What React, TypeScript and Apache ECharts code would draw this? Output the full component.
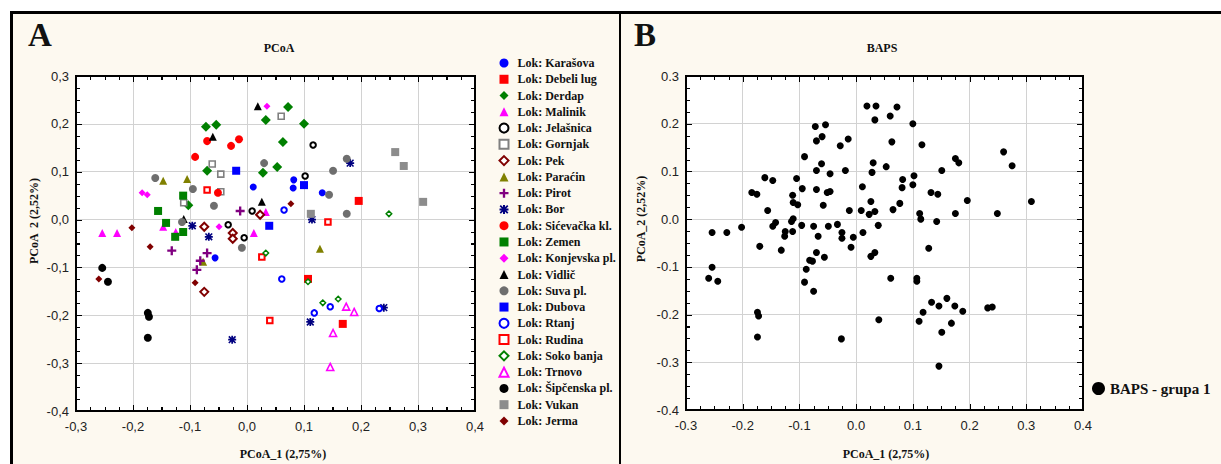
import React, { useEffect, useRef } from 'react';
import * as echarts from 'echarts';

type Pt = [number, number];

// ---- data (PCoA_1, PCoA_2) per locality ----
const karasova: Pt[] = [[0.011, 0.068], [0.082, 0.083], [0.081, 0.066], [0.132, 0.056], [-0.056, -0.08]];
const debeliLug: Pt[] = [[0.196, 0.039], [0.168, -0.218], [0.107, -0.124]];
const derdap: Pt[] = [[0.072, 0.235], [0.033, 0.208], [0.1, 0.2], [-0.072, 0.194], [-0.054, 0.198], [0.063, 0.162], [-0.07, 0.102], [0.053, 0.11], [0.028, 0.098], [-0.103, 0.03]];
const malinik: Pt[] = [[-0.254, -0.028], [-0.228, -0.028], [-0.147, -0.015], [-0.125, -0.026], [0.012, -0.028], [0.033, 0.016]];
const jelasnica: Pt[] = [[0.116, 0.156], [0.102, 0.091], [0.009, 0.018], [-0.033, -0.011], [-0.005, -0.038]];
const gornjak: Pt[] = [[0.06, 0.216], [-0.061, 0.116], [-0.046, 0.095], [-0.046, 0.058], [-0.111, 0.035]];
const pek: Pt[] = [[0.023, 0.01], [-0.075, -0.015], [-0.025, -0.028], [-0.025, -0.04], [-0.075, -0.151]];
const paracin: Pt[] = [[-0.147, 0.081], [-0.105, 0.085], [-0.077, -0.088], [0.128, -0.061]];
const pirot: Pt[] = [[-0.012, 0.018], [-0.132, -0.065], [-0.07, -0.07], [-0.082, -0.086], [-0.088, -0.105]];
const bor: Pt[] = [[0.181, 0.118], [0.114, 0.0], [-0.096, -0.013], [-0.067, -0.036], [-0.026, -0.251], [0.111, -0.214], [0.24, -0.184]];
const sicevacka: Pt[] = [[-0.07, 0.164], [-0.028, 0.154], [-0.014, 0.168], [-0.091, 0.131], [-0.051, 0.056]];
const zemen: Pt[] = [[-0.112, 0.05], [-0.156, 0.018], [-0.142, -0.007], [-0.126, -0.036], [-0.112, -0.026]];
const konjevska: Pt[] = [[0.035, 0.237], [-0.184, 0.056], [-0.175, 0.052], [-0.049, -0.015]];
const vidlic: Pt[] = [[0.019, 0.237], [-0.06, 0.173], [0.026, 0.037], [-0.111, 0.001]];
const suva: Pt[] = [[0.03, 0.118], [-0.161, 0.087], [-0.095, 0.064], [-0.058, 0.029], [-0.114, -0.005], [-0.009, -0.059], [0.175, 0.127], [0.151, 0.102], [0.144, 0.052], [0.175, 0.012]];
const dubova: Pt[] = [[-0.019, 0.102], [0.1, 0.072], [0.039, -0.013]];
const rtanj: Pt[] = [[0.065, 0.02], [0.061, -0.124], [0.146, -0.182], [0.118, -0.195], [0.232, -0.186]];
const rudina: Pt[] = [[-0.07, 0.062], [0.142, -0.005], [0.026, -0.078], [0.04, -0.211]];
const sokoBanja: Pt[] = [[0.249, 0.012], [0.033, -0.07], [0.107, -0.13], [0.133, -0.174], [0.16, -0.166]];
const trnovo: Pt[] = [[0.174, -0.182], [0.188, -0.193], [0.151, -0.237], [0.146, -0.308]];
const sipcenska: Pt[] = [[-0.254, -0.101], [-0.244, -0.13], [-0.174, -0.195], [-0.172, -0.203], [-0.174, -0.247]];
const vukan: Pt[] = [[0.26, 0.141], [0.275, 0.112], [0.309, 0.037], [0.112, 0.012]];
const jerma: Pt[] = [[0.077, 0.033], [-0.202, -0.017], [-0.17, -0.057], [-0.26, -0.124], [-0.091, -0.132]];

// ---- axes ----
const xMin = -0.3;
const xMax = 0.4;
const yMin = -0.4;
const yMax = 0.3;
const tickStep = 0.1;
const minorPerMajor = 4; // minor tick every 0.025

const PLUS = 'path://M3.7,0H6.3V3.7H10V6.3H6.3V10H3.7V6.3H0V3.7H3.7Z';
const STAR = 'path://M3.9,0H6.1V10H3.9Z M0,3.9H10V6.1H0Z M1.5,0.1L9.9,8.5L8.5,9.9L0.1,1.5Z M8.5,0.1L9.9,1.5L1.5,9.9L0.1,8.5Z';

type Def = { name: string; data: Pt[]; symbol: string; color: string; size: number; open?: boolean; bw?: number };

const SERIES_A: Def[] = [
  { name: 'Lok: Karašova', data: karasova, symbol: 'circle', color: '#0000ff', size: 7 },
  { name: 'Lok: Debeli lug', data: debeliLug, symbol: 'rect', color: '#ff0000', size: 8 },
  { name: 'Lok: Derdap', data: derdap, symbol: 'diamond', color: '#008000', size: 10 },
  { name: 'Lok: Malinik', data: malinik, symbol: 'triangle', color: '#ff00ff', size: 8 },
  { name: 'Lok: Jelašnica', data: jelasnica, symbol: 'circle', color: '#000000', size: 5.5, open: true, bw: 2 },
  { name: 'Lok: Gornjak', data: gornjak, symbol: 'rect', color: '#808080', size: 6, open: true, bw: 1.6 },
  { name: 'Lok: Pek', data: pek, symbol: 'diamond', color: '#800000', size: 8, open: true, bw: 2 },
  { name: 'Lok: Paraćin', data: paracin, symbol: 'triangle', color: '#808000', size: 8 },
  { name: 'Lok: Pirot', data: pirot, symbol: PLUS, color: '#800080', size: 9 },
  { name: 'Lok: Bor', data: bor, symbol: STAR, color: '#000080', size: 8 },
  { name: 'Lok: Sićevačka kl.', data: sicevacka, symbol: 'circle', color: '#ff0000', size: 8 },
  { name: 'Lok: Zemen', data: zemen, symbol: 'rect', color: '#008000', size: 8 },
  { name: 'Lok: Konjevska pl.', data: konjevska, symbol: 'diamond', color: '#ff00ff', size: 7 },
  { name: 'Lok: Vidlič', data: vidlic, symbol: 'triangle', color: '#000000', size: 8 },
  { name: 'Lok: Suva pl.', data: suva, symbol: 'circle', color: '#6e6e6e', size: 8 },
  { name: 'Lok: Dubova', data: dubova, symbol: 'rect', color: '#0000ff', size: 8 },
  { name: 'Lok: Rtanj', data: rtanj, symbol: 'circle', color: '#0000ff', size: 5.5, open: true, bw: 2 },
  { name: 'Lok: Rudina', data: rudina, symbol: 'rect', color: '#ff0000', size: 5.5, open: true, bw: 2 },
  { name: 'Lok: Soko banja', data: sokoBanja, symbol: 'diamond', color: '#008000', size: 5.5, open: true, bw: 1.5 },
  { name: 'Lok: Trnovo', data: trnovo, symbol: 'triangle', color: '#ff00ff', size: 7, open: true, bw: 1.6 },
  { name: 'Lok: Šipčenska pl.', data: sipcenska, symbol: 'circle', color: '#000000', size: 8 },
  { name: 'Lok: Vukan', data: vukan, symbol: 'rect', color: '#8c8c8c', size: 8 },
  { name: 'Lok: Jerma', data: jerma, symbol: 'diamond', color: '#800000', size: 7 },
];

const BAPS_NAME = 'BAPS - grupa 1';
const bapsPoints: Pt[] = SERIES_A.reduce((acc: Pt[], s) => acc.concat(s.data), []);

const SERIF = "'Liberation Serif', 'Times New Roman', serif";
const SANS = "'Liberation Sans', Arial, sans-serif";
const CREAM = '#fdf9f0';

type Box = { left: number; top: number; width: number; height: number };
const PLOT_A: Box = { left: 76, top: 76, width: 399, height: 335 };
const PLOT_B: Box = { left: 686, top: 76, width: 397, height: 334 };

const commaFmt = (v: number) => v.toFixed(1).replace('.', ',');
const dotFmt = (v: number) => v.toFixed(1);

function mainAxis(kind: 'x' | 'y', gridIndex: number, fmt: (v: number) => string) {
  return {
    gridIndex,
    type: 'value',
    min: kind === 'x' ? xMin : yMin,
    max: kind === 'x' ? xMax : yMax,
    interval: tickStep,
    position: kind === 'x' ? 'bottom' : 'left',
    axisLine: { show: false, onZero: false },
    axisTick: { show: false },
    minorTick: { show: false },
    splitLine: { show: true, showMinLine: false, showMaxLine: false, lineStyle: { color: '#d2d2d2', width: 1 } },
    axisLabel: {
      formatter: fmt,
      fontFamily: SANS,
      fontSize: 13,
      color: '#222',
      margin: kind === 'x' ? 9 : 7,
    },
  };
}

function txt(text: string, x: number, y: number, size: number, extra: any = {}) {
  return {
    type: 'text',
    x,
    y,
    silent: true,
    style: {
      text,
      fontFamily: SERIF,
      fontWeight: 'bold',
      fontSize: size,
      fill: '#111',
      align: 'center',
      verticalAlign: 'middle',
    },
    ...extra,
  };
}

// Plot frame with inward major and minor ticks on all four sides (drawn above the chart)
function frameElements(g: Box, keyBase: string) {
  const nMinorX = Math.round((xMax - xMin) / tickStep) * minorPerMajor;
  const nMinorY = Math.round((yMax - yMin) / tickStep) * minorPerMajor;
  const sx = g.width / nMinorX;
  const sy = g.height / nMinorY;
  const hGrad = (step: number) =>
    `repeating-linear-gradient(to right, #000 0px, #000 1px, rgba(0,0,0,0) 1px, rgba(0,0,0,0) ${step}px)`;
  const vGrad = (step: number) =>
    `repeating-linear-gradient(to bottom, #000 0px, #000 1px, rgba(0,0,0,0) 1px, rgba(0,0,0,0) ${step}px)`;
  const els: any[] = [];
  const specs: [number, number][] = [
    [3, 1],
    [5, minorPerMajor],
  ];
  specs.forEach(([len, mult], si) => {
    const stepX = sx * mult;
    const stepY = sy * mult;
    const strips = [
      { left: g.left, top: g.top + g.height - 1 - len, width: g.width + 1, height: len, backgroundImage: hGrad(stepX) },
      { left: g.left, top: g.top + 1, width: g.width + 1, height: len, backgroundImage: hGrad(stepX) },
      { left: g.left + 1, top: g.top, width: len, height: g.height + 1, backgroundImage: vGrad(stepY) },
      { left: g.left + g.width - 1 - len, top: g.top, width: len, height: g.height + 1, backgroundImage: vGrad(stepY) },
    ];
    strips.forEach((s, i) => {
      els.push(
        <div key={`${keyBase}-t${si}-${i}`} style={{ position: 'absolute', zIndex: 20, pointerEvents: 'none', ...s }} />
      );
    });
  });
  const edges = [
    { left: g.left - 1, top: g.top - 1, width: g.width + 2, height: 2 },
    { left: g.left - 1, top: g.top + g.height - 1, width: g.width + 2, height: 2 },
    { left: g.left - 1, top: g.top - 1, width: 2, height: g.height + 2 },
    { left: g.left + g.width - 1, top: g.top - 1, width: 2, height: g.height + 2 },
  ];
  edges.forEach((e, i) => {
    els.push(
      <div
        key={`${keyBase}-e${i}`}
        style={{ position: 'absolute', zIndex: 21, pointerEvents: 'none', background: '#000', ...e }}
      />
    );
  });
  return els;
}

export default function App() {
  const ref = useRef<HTMLDivElement>(null);
  useEffect(() => {
    if (!ref.current) return;
    const chart = echarts.init(ref.current, undefined, { renderer: 'svg' });

    const seriesA = SERIES_A.map((s) => ({
      type: 'scatter',
      name: s.name,
      xAxisIndex: 0,
      yAxisIndex: 0,
      data: s.data,
      symbol: s.symbol,
      symbolSize: s.size,
      itemStyle: s.open
        ? { color: '#ffffff', borderColor: s.color, borderWidth: s.bw || 2, opacity: 1 }
        : { color: s.color, opacity: 1 },
      emphasis: { disabled: true },
    }));

    const seriesB = {
      type: 'scatter',
      name: BAPS_NAME,
      xAxisIndex: 1,
      yAxisIndex: 1,
      data: bapsPoints,
      symbol: 'circle',
      symbolSize: 7,
      itemStyle: { color: '#000', opacity: 1 },
      emphasis: { disabled: true },
    };

    chart.setOption({
      animation: false,
      backgroundColor: 'transparent',
      grid: [
        { ...PLOT_A, show: false },
        { ...PLOT_B, show: false },
      ],
      xAxis: [mainAxis('x', 0, commaFmt), mainAxis('x', 1, dotFmt)],
      yAxis: [mainAxis('y', 0, commaFmt), mainAxis('y', 1, dotFmt)],
      legend: [
        {
          data: SERIES_A.map((s) => s.name),
          orient: 'vertical',
          left: 498.5,
          top: 57,
          padding: 0,
          itemWidth: 9,
          itemHeight: 9,
          itemGap: 4.27,
          selectedMode: false,
          textStyle: { fontFamily: SERIF, fontWeight: 'bold', fontSize: 12, color: '#111', padding: [0, 0, 0, 4] },
        },
        {
          data: [BAPS_NAME],
          orient: 'vertical',
          left: 1092,
          top: 381,
          padding: 0,
          itemWidth: 13,
          itemHeight: 13,
          selectedMode: false,
          textStyle: { fontFamily: SERIF, fontWeight: 'bold', fontSize: 15, color: '#111' },
        },
      ],
      graphic: [
        txt('A', 40, 35, 33),
        txt('B', 645, 35, 33),
        txt('PCoA', 279, 48, 12),
        txt('BAPS', 882, 48, 12),
        txt('PCoA_1 (2,75%)', 283, 454, 12),
        txt('PCoA_1 (2,75%)', 886, 454, 12),
        txt('PCoA  2 (2,52%)', 34, 221, 12, { rotation: Math.PI / 2 }),
        txt('PCoA_2 (2,52%)', 641, 219, 12, { rotation: Math.PI / 2 }),
      ],
      series: [...seriesA, seriesB],
    });

    return () => chart.dispose();
  }, []);

  return (
    <div style={{ position: 'fixed', left: 0, top: 0, width: 1221, height: 464, background: '#fff', overflow: 'hidden' }}>
      <div
        style={{
          position: 'absolute',
          zIndex: 0,
          left: 10,
          top: 11,
          width: 1400,
          height: 600,
          background: CREAM,
          borderTop: '3px solid #000',
          borderLeft: '3px solid #000',
          boxSizing: 'border-box',
        }}
      />
      <div style={{ position: 'absolute', zIndex: 1, left: 619, top: 11, width: 2, height: 460, background: '#000' }} />
      <div style={{ position: 'absolute', zIndex: 1, background: '#fff', ...PLOT_A }} />
      <div style={{ position: 'absolute', zIndex: 1, background: '#fff', ...PLOT_B }} />
      <div ref={ref} style={{ position: 'absolute', zIndex: 5, left: 0, top: 0, width: 1221, height: 464 }} />
      {frameElements(PLOT_A, 'a')}
      {frameElements(PLOT_B, 'b')}
    </div>
  );
}
